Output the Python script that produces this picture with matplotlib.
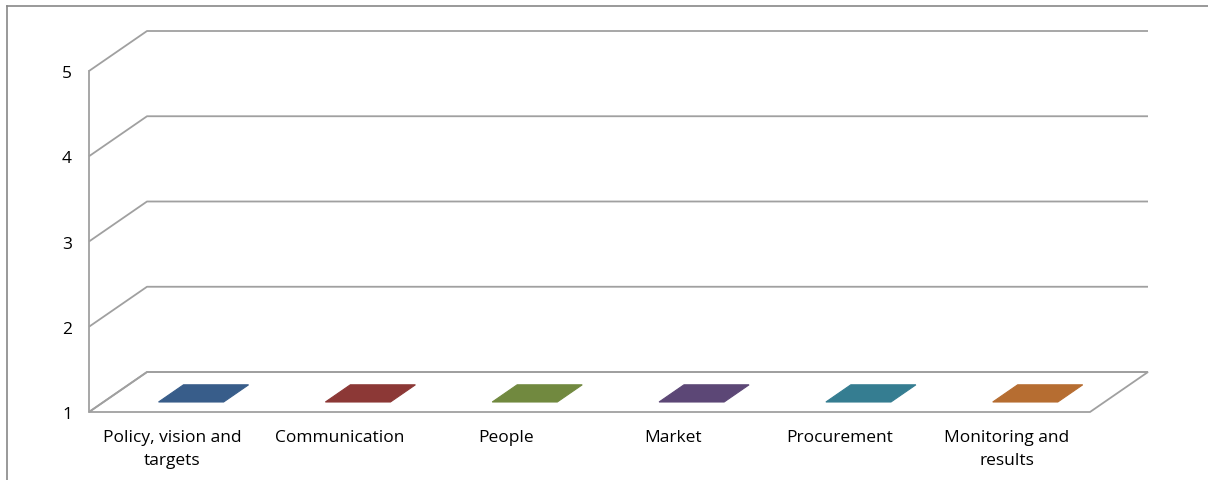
import matplotlib
matplotlib.use("Agg")
import matplotlib.pyplot as plt
from matplotlib.patches import Polygon
from matplotlib.lines import Line2D

categories = ["Policy, vision and\ntargets", "Communication", "People", "Market",
              "Procurement", "Monitoring and\nresults"]
values = [1, 1, 1, 1, 1, 1]
bar_colors = ["#385D8A", "#8C3836", "#71893F", "#5C4776", "#357D91", "#B66D31"]
y_ticks = [1, 2, 3, 4, 5]

W, H = 1208, 480
fig = plt.figure(figsize=(W / 100, H / 100), dpi=100)
ax = fig.add_axes([0, 0, 1, 1])
ax.set_axis_off()

# pixel geometry of the plot frame
x0_px, cat_px = 89, (1090 - 89) / 6
y1_px, unit_px = 412, (412 - 71) / 4
ax.set_xlim(-x0_px / cat_px, (W - x0_px) / cat_px)
ax.set_ylim(1 - (H - y1_px) / unit_px, 1 + y1_px / unit_px)

dx = 58 / cat_px   # depth offset in category units
dy = 40 / unit_px  # depth offset in value units
n = len(categories)
ymin = y_ticks[0]
grid_c = "#A0A0A0"
lw = 1.3

def proj(x, v, d):
    return (x + d * dx, v + d * dy)

# gridlines (back wall + side wall)
for t in y_ticks:
    xs = [0, dx, n + dx]
    ys = [t, t + dy, t + dy]
    ax.plot(xs, ys, color=grid_c, lw=lw, solid_capstyle="butt")
# floor
floor = [proj(0, ymin, 0), proj(n, ymin, 0), proj(n, ymin, 1), proj(0, ymin, 1)]
ax.add_patch(Polygon(floor, closed=True, fill=False, edgecolor=grid_c, lw=lw))
# vertical axis line
ax.plot([0, 0], [ymin, y_ticks[-1]], color=grid_c, lw=lw)

# bars (flat, at value baseline)
b0, b1 = 0.33, 0.72
d0, d1 = 0.25, 0.68
for i, (v, c) in enumerate(zip(values, bar_colors)):
    pts = [proj(i + b0, v, d0), proj(i + b1, v, d0), proj(i + b1, v, d1), proj(i + b0, v, d1)]
    ax.add_patch(Polygon(pts, closed=True, facecolor=c, edgecolor=c, lw=0.8, alpha=1))

font = ["Open Sans", "DejaVu Sans"]
fs = 12.5
for t in y_ticks:
    ax.text(-22 / cat_px, t - 3 / unit_px, str(t), ha="center", va="center", fontsize=fs,
            family=font, color="#000000")
for i, lab in enumerate(categories):
    ax.text(i + 0.5, ymin - 18 / unit_px, lab, ha="center", va="top", fontsize=fs, family=font,
            color="#000000", linespacing=1.55)

# outer border (top and left)
fig.add_artist(Line2D([7 / W, 7 / W], [0, 1 - 6 / H], color="#888888", lw=1.2))
fig.add_artist(Line2D([7 / W, 1], [1 - 6 / H, 1 - 6 / H], color="#888888", lw=1.2))

fig.savefig("out.png", dpi=100)
